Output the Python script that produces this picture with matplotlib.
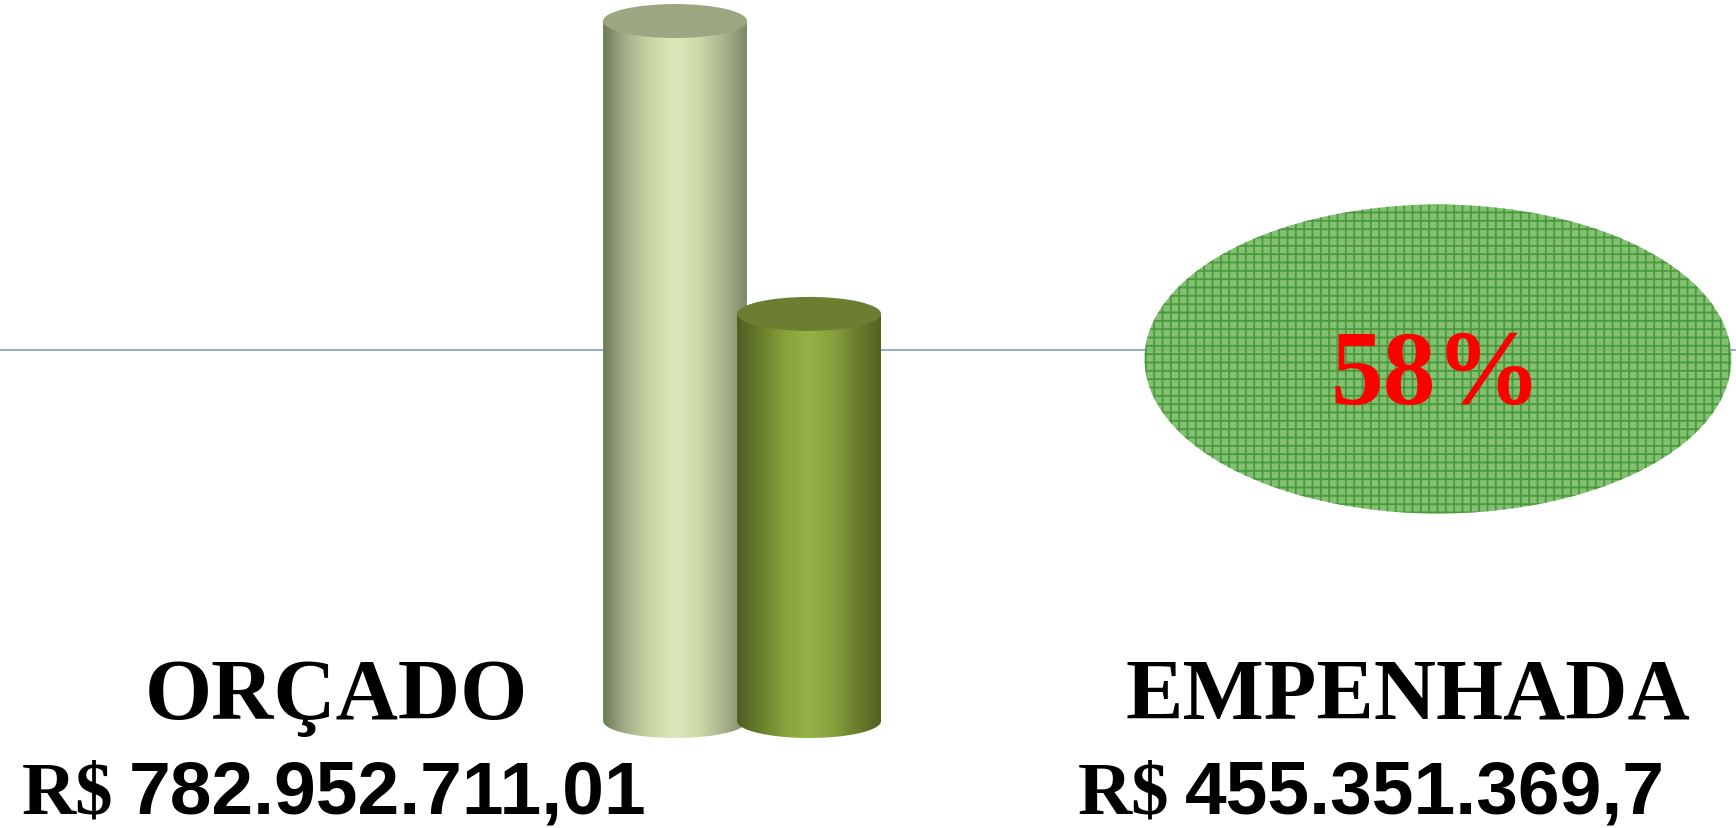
import numpy as np
import matplotlib
matplotlib.use("Agg")
import matplotlib.pyplot as plt
from matplotlib.colors import LinearSegmentedColormap
from matplotlib.patches import Ellipse, PathPatch
from matplotlib.path import Path

# dados
categorias = ["ORÇADO", "EMPENHADA"]
valores = [782952711.01, 455351369.70]  # R$
rotulos_valor = ["782.952.711,01", "455.351.369,7"]
percentual = "58%"

v = np.array(valores) / 1e6  # milhoes

# cores (cilindros em degrade)
cores_corpo = [
    ["#6b7a5a", "#a6b38b", "#c9d6a4", "#dce8b9", "#cdd9a9", "#aab590", "#7d8967"],
    ["#4d5e22", "#6a7f2c", "#88a23c", "#96b147", "#88a13e", "#6a7e2c", "#52631f"],
]
cores_topo = ["#9ca680", "#6c7e31"]

plt.rcParams["hatch.linewidth"] = 1.3

fig = plt.figure(figsize=(17.36, 8.29), dpi=100)
ax = fig.add_axes([0, 0, 1, 1])
ax.axis("off")

# linha de grade
ax.axhline(415, color="#8fa9b8", lw=1.3, zorder=0)

pos = [0, 1]
larg = 1.075
cap_h = 38
bars = ax.bar(pos, v, width=larg, color="none", zorder=1)

for i, b in enumerate(bars):
    x0, w, h = b.get_x(), b.get_width(), b.get_height()
    xc = x0 + w / 2
    t = np.linspace(np.pi, 2 * np.pi, 80)
    verts = [(x0, h)] + list(zip(xc + w / 2 * np.cos(t), cap_h / 2 * np.sin(t))) + [(x0 + w, h), (x0, h)]
    codes = [Path.MOVETO] + [Path.LINETO] * (len(verts) - 2) + [Path.CLOSEPOLY]
    corpo = PathPatch(Path(verts, codes), facecolor="none", edgecolor="none", transform=ax.transData)
    ax.add_patch(corpo)
    cmap = LinearSegmentedColormap.from_list("c%d" % i, cores_corpo[i])
    grad = np.linspace(0, 1, 256).reshape(1, -1)
    im = ax.imshow(grad, extent=[x0, x0 + w, -cap_h, h], aspect="auto", cmap=cmap,
                   interpolation="bicubic", zorder=2 + 2 * i)
    im.set_clip_path(corpo)
    ax.add_patch(Ellipse((xc, h), w, cap_h, facecolor=cores_topo[i], edgecolor="none", zorder=3 + 2 * i))

ax.set_xlim(-5.04, 7.92)
ax.set_ylim(-119.7, 807.6)

# oval com percentual
oval = Ellipse((0.8283, 0.5657), 0.338, 0.3727, transform=ax.transAxes,
               facecolor="#7cbd69", edgecolor="#47983b", hatch="++", lw=0, alpha=0.95, zorder=8)
ax.add_patch(oval)
ax.text(0.827, 0.5127, percentual, transform=ax.transAxes, color="red", fontsize=76,
        family="Liberation Serif", weight="bold", ha="center", va="baseline", zorder=9)

# rotulos
tx_cat = [0.194, 0.811]
x_valor = [0.0127, 0.621]
y_valor = 0.019
for i in range(2):
    ax.text(tx_cat[i], 0.1327, categorias[i], transform=ax.transAxes, fontsize=62,
            family="Liberation Serif", weight="bold", ha="center", va="baseline", zorder=9)
    rs = ax.text(x_valor[i], y_valor, "R$", transform=ax.transAxes, fontsize=54,
                 family="Liberation Serif", weight="bold", ha="left", va="baseline", zorder=9)
    ax.annotate(rotulos_valor[i], xy=(1, y_valor), xycoords=(rs, "axes fraction"),
                xytext=(11, 0), textcoords="offset points", fontsize=54,
                family="Liberation Sans", weight="bold", ha="left", va="baseline", zorder=9)

fig.savefig("out.png", dpi=100)
